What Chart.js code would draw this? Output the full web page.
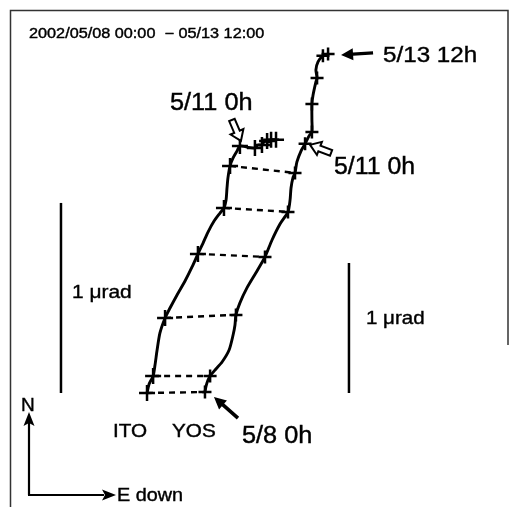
<!DOCTYPE html>
<html><head><meta charset="utf-8">
<style>html,body{margin:0;padding:0;background:#fff;}canvas{display:block;}</style>
<script src="https://cdn.jsdelivr.net/npm/chart.js@4"></script>
</head><body>
<canvas id="c" width="511" height="507"></canvas>
<script>
// Tilt vector diagram, 2002/05/08 00:00 - 05/13 12:00 (units: left scale bar = 1 μrad)
const itoTraceX = [0,0.011,0.032,0.042,0.053,0.068,0.095,0.121,0.158,0.200,0.237,0.268,0.295,0.321,0.353,0.384,0.405,0.416,0.421,0.426,0.437,0.453,0.474,0.489,0.521,0.568,0.584,0.605,0.616,0.632,0.642,0.653,0.679];
const itoTraceY = [0,0.047,0.089,0.147,0.226,0.316,0.395,0.447,0.516,0.589,0.663,0.732,0.789,0.847,0.905,0.947,0.974,1.016,1.079,1.132,1.195,1.237,1.274,1.300,1.295,1.289,1.305,1.305,1.321,1.326,1.321,1.332,1.332];
const yosTraceX = [0.305,0.311,0.321,0.332,0.358,0.395,0.432,0.453,0.463,0.468,0.489,0.526,0.579,0.621,0.658,0.700,0.742,0.753,0.758,0.768,0.779,0.789,0.811,0.832,0.853,0.868,0.868,0.868,0.874,0.889,0.895,0.889,0.900,0.926,0.953];
const yosTraceY = [0.005,0.037,0.068,0.089,0.121,0.163,0.226,0.305,0.358,0.411,0.474,0.553,0.642,0.716,0.805,0.889,0.953,1.016,1.079,1.132,1.158,1.216,1.274,1.311,1.353,1.374,1.437,1.521,1.568,1.637,1.658,1.700,1.742,1.774,1.784];
// 12-hourly marks (5/8 0h ... 5/13 12h)
const itoMarkX = [0,0.032,0.095,0.268,0.405,0.437,0.489,0.568,0.605,0.632,0.653,0.679];
const itoMarkY = [0,0.089,0.395,0.732,0.974,1.195,1.300,1.289,1.305,1.326,1.332,1.332];
const yosMarkX = [0.305,0.332,0.468,0.621,0.742,0.779,0.832,0.868,0.868,0.895,0.926,0.953];
const yosMarkY = [0.005,0.089,0.411,0.716,0.953,1.158,1.311,1.374,1.521,1.658,1.774,1.784];
const pairedMarks = 6; // dashed links 5/8 0h .. 5/10 12h
const scaleBarITO = [0, 1.0];    // 1 μrad (ITO)
const scaleBarYOS = [0, 0.684];  // 1 μrad (YOS)

const pts = (xs, ys) => xs.map((x, i) => ({x, y: ys[i]}));
const datasets = [];
for (let i = 0; i < pairedMarks; i++) {
  datasets.push({data: [{x: itoMarkX[i], y: itoMarkY[i]}, {x: yosMarkX[i], y: yosMarkY[i]}],
    showLine: true, borderColor: '#000', borderWidth: 2.4, borderDash: [6, 5], pointRadius: 0});
}
datasets.push({data: pts(itoTraceX, itoTraceY), showLine: true, borderColor: '#000', borderWidth: 2.9, tension: 0.25, pointRadius: 0});
datasets.push({data: pts(yosTraceX, yosTraceY), showLine: true, borderColor: '#000', borderWidth: 2.9, tension: 0.25, pointRadius: 0});
datasets.push({data: pts(itoMarkX, itoMarkY), showLine: false, pointStyle: 'cross', pointRadius: 8, borderColor: '#000', borderWidth: 2.5, pointBorderColor: '#000'});
datasets.push({data: pts(yosMarkX, yosMarkY), showLine: false, pointStyle: 'cross', pointRadius: 6.5, borderColor: '#000', borderWidth: 2.5, pointBorderColor: '#000'});
datasets.push({data: scaleBarITO.map(v => ({x: -0.453, y: v})), showLine: true, borderColor: '#000', borderWidth: 2.5, pointRadius: 0});
datasets.push({data: scaleBarYOS.map(v => ({x: 1.063, y: v})), showLine: true, borderColor: '#000', borderWidth: 2.5, pointRadius: 0});

function txt(ctx, s, x, y, size, sx) {
  ctx.save();
  ctx.translate(x, y);
  ctx.scale(sx, 1);
  ctx.font = size + 'px "Liberation Sans", Arial, sans-serif';
  ctx.fillStyle = '#000';
  ctx.strokeStyle = '#000';
  ctx.lineWidth = 0.4;
  ctx.textBaseline = 'alphabetic';
  ctx.textAlign = 'left';
  ctx.fillText(s, 0, 0);
  ctx.strokeText(s, 0, 0);
  ctx.restore();
}
function arrow(ctx, tip, tail, shaftHalf, headHalf, headLen, open) {
  const dx = tail[0] - tip[0], dy = tail[1] - tip[1];
  const L = Math.hypot(dx, dy), ux = dx / L, uy = dy / L, nx = -uy, ny = ux;
  const bx = tip[0] + ux * headLen, by = tip[1] + uy * headLen;
  ctx.beginPath();
  ctx.moveTo(tip[0], tip[1]);
  ctx.lineTo(bx + nx * headHalf, by + ny * headHalf);
  ctx.lineTo(bx + nx * shaftHalf, by + ny * shaftHalf);
  ctx.lineTo(tail[0] + nx * shaftHalf, tail[1] + ny * shaftHalf);
  ctx.lineTo(tail[0] - nx * shaftHalf, tail[1] - ny * shaftHalf);
  ctx.lineTo(bx - nx * shaftHalf, by - ny * shaftHalf);
  ctx.lineTo(bx - nx * headHalf, by - ny * headHalf);
  ctx.closePath();
  if (open) { ctx.fillStyle = '#fff'; ctx.fill(); ctx.lineWidth = 2; ctx.strokeStyle = '#000'; ctx.lineJoin = 'miter'; ctx.stroke(); }
  else { ctx.fillStyle = '#000'; ctx.fill(); }
}

const annot = {
  id: 'annot',
  beforeDraw(chart) {
    const ctx = chart.ctx;
    ctx.save(); ctx.fillStyle = '#fff'; ctx.fillRect(0, 0, chart.width, chart.height); ctx.restore();
  },
  afterDatasetsDraw(chart) {
    const ctx = chart.ctx, sx = chart.scales.x, sy = chart.scales.y;
    const P = (x, y) => [sx.getPixelForValue(x), sy.getPixelForValue(y)];
    ctx.save();
    // frame
    ctx.strokeStyle = '#333'; ctx.lineWidth = 1.5;
    ctx.beginPath();
    ctx.moveTo(10.5, 507); ctx.lineTo(10.5, 10.5); ctx.lineTo(508, 10.5); ctx.lineTo(508, 345);
    ctx.stroke();
    // texts
    txt(ctx, '2002/05/08 00:00  \u2212 05/13 12:00', 29, 38, 14, 1.16);
    txt(ctx, '5/11 0h', 170, 110, 23, 1.1);
    txt(ctx, '5/11 0h', 334, 174, 23, 1.08);
    txt(ctx, '5/13 12h', 383, 62, 22, 1.1);
    txt(ctx, 'ITO', 113, 437, 18, 1.15);
    txt(ctx, 'YOS', 172, 437, 18, 1.15);
    txt(ctx, '5/8 0h', 242, 443, 23, 1.1);
    txt(ctx, '1 \u03bcrad', 72, 298, 19, 1.1);
    txt(ctx, '1 \u03bcrad', 366, 324, 19, 1.08);
    txt(ctx, 'N', 21, 411, 19, 1.0);
    txt(ctx, 'E down', 117, 501, 18, 1.1);
    // arrows anchored to marks
    const last = yosMarkX.length - 1;
    const a1 = P(yosMarkX[last], yosMarkY[last]);
    arrow(ctx, [a1[0] + 13, a1[1] + 1], [a1[0] + 45, a1[1] - 1], 1.6, 6, 12, false);
    const a2 = P(yosMarkX[0], yosMarkY[0]);
    arrow(ctx, [a2[0] + 9, a2[1] + 5], [a2[0] + 33, a2[1] + 26], 1.8, 6, 12, false);
    const a3 = P(itoMarkX[6], itoMarkY[6]);
    arrow(ctx, [a3[0] + 1, a3[1] - 5], [a3[0] - 8, a3[1] - 26], 3, 7, 10, true);
    const a4 = P(yosMarkX[6], yosMarkY[6]);
    arrow(ctx, [a4[0] + 5, a4[1] + 1], [a4[0] + 26, a4[1] + 9], 3, 7, 10, true);
    // N / E axes
    ctx.strokeStyle = '#000'; ctx.lineWidth = 2.2;
    ctx.beginPath(); ctx.moveTo(29, 495); ctx.lineTo(29, 422); ctx.moveTo(28, 495); ctx.lineTo(104, 495); ctx.stroke();
    ctx.fillStyle = '#000';
    ctx.beginPath(); ctx.moveTo(29, 412); ctx.lineTo(34.5, 426); ctx.lineTo(29, 423); ctx.lineTo(23.5, 426); ctx.closePath(); ctx.fill();
    ctx.beginPath(); ctx.moveTo(116, 495); ctx.lineTo(102, 489.5); ctx.lineTo(105, 495); ctx.lineTo(102, 500.5); ctx.closePath(); ctx.fill();
    ctx.restore();
  }
};

new Chart(document.getElementById('c'), {
  type: 'scatter',
  data: {datasets},
  options: {
    responsive: false, animation: false, devicePixelRatio: 1,
    layout: {padding: 0, autoPadding: false},
    plugins: {legend: {display: false}, tooltip: {enabled: false}, title: {display: false}},
    elements: {line: {borderCapStyle: 'butt', borderJoinStyle: 'round'}},
    scales: {
      x: {type: 'linear', display: false, min: -0.774, max: 1.916},
      y: {type: 'linear', display: false, min: -0.6, max: 2.068}
    }
  },
  plugins: [annot]
});
</script>
</body></html>
